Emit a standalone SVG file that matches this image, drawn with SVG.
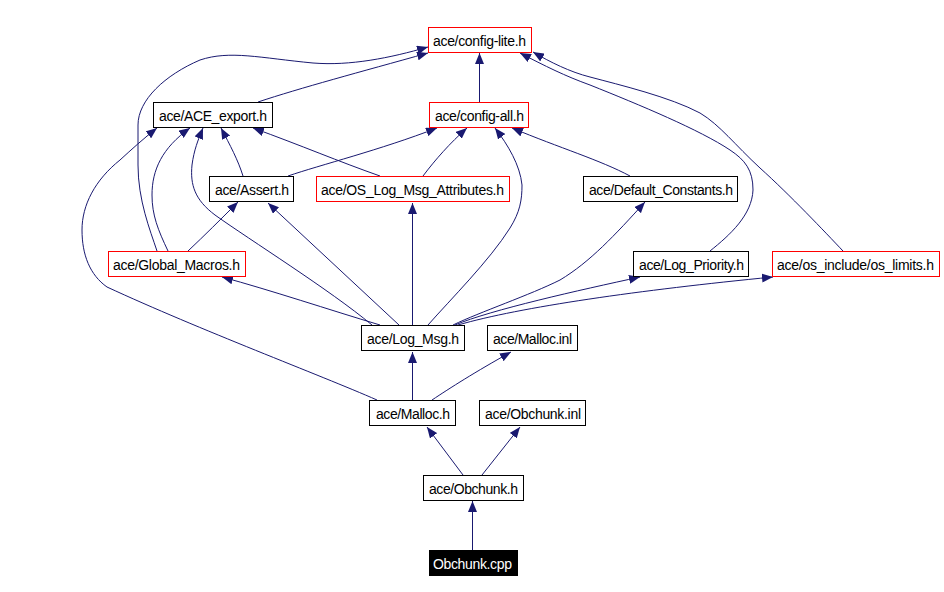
<svg xmlns="http://www.w3.org/2000/svg" width="944" height="592" viewBox="0 0 944 592">
<style>
.n rect{fill:#fff;stroke:#000;stroke-width:1}
.n.r rect{stroke:#f00}
.n text{font-family:"Liberation Sans",Arial,sans-serif;font-size:14px;fill:#000}
.n.b rect{fill:#000;stroke:#000}
.n.b text{fill:#fff}
#edges path{fill:none;stroke:#191970;stroke-width:1;marker-end:url(#arr)}
</style>
<defs>
<marker id="arr" markerWidth="11" markerHeight="9" refX="11" refY="4.5" orient="auto" markerUnits="userSpaceOnUse">
<path d="M0,0 L11,4.5 L0,9 z" fill="#191970"/>
</marker>
</defs>
<rect width="944" height="592" fill="#fff"/>
<g id="edges">
<path d="M472.5,550 L472.5,501"/>
<path d="M463,475 L427,427"/>
<path d="M482,475 L520,427"/>
<path d="M412.5,400 L412.5,352"/>
<path d="M432,400 C450,388 475,372 511,352"/>
<path d="M377,400 C320,375 200,330 107,287 C90,275 82,255 82,230 C82,205 95,180 120,160 C132,149 143,139 157,128"/>
<path d="M412.5,325 L412.5,203"/>
<path d="M399,325 L268,203"/>
<path d="M380,325 C330,310 270,290 222,277"/>
<path d="M372,325 C330,290 250,240 215,215 C195,200 190,185 192,165 C194,150 198,140 203,128"/>
<path d="M428,325 C450,300 490,260 510,228 C520,212 522,200 522,185 C520,165 508,145 495,128"/>
<path d="M453,325 C480,312 530,295 560,280 C590,262 615,235 645,202"/>
<path d="M455,325 C490,310 580,290 640,277"/>
<path d="M458,325 C520,307 640,290 773,277"/>
<path d="M243,176 C238,160 230,145 221,128"/>
<path d="M288,176 C320,165 380,150 437,128"/>
<path d="M380,176 C340,162 300,145 253,128"/>
<path d="M423,176 C435,160 450,143 467,128"/>
<path d="M630,176 C600,160 560,148 512,128"/>
<path d="M188,251 C205,235 220,220 238,202"/>
<path d="M168,251 C158,230 152,215 152,195 C152,170 162,148 190,128"/>
<path d="M157,251 C150,230 138,200 138,165 L138,125 C138,100 165,75 200,60 C230,50 260,58 313,63 C350,66 390,58 428,47"/>
<path d="M258,102 C300,88 360,72 428,53"/>
<path d="M479.5,102 L479.5,53"/>
<path d="M710,251 C730,235 752,215 753,190 C753,170 745,160 730,150 C700,130 640,105 590,85 C565,76 545,66 520,53"/>
<path d="M843,251 C825,232 790,195 760,168 C735,145 720,125 700,113 C670,97 620,85 590,77 C570,72 550,62 533,52"/>
</g>
<g id="config_lite" class="n r"><rect x="428.5" y="27.5" width="103" height="25"/><text x="433" y="46" textLength="93">ace/config-lite.h</text></g>
<g id="ace_export" class="n"><rect x="153.5" y="102.5" width="119" height="25"/><text x="159" y="121" textLength="108">ace/ACE_export.h</text></g>
<g id="config_all" class="n r"><rect x="429.5" y="102.5" width="99" height="25"/><text x="435" y="121" textLength="89">ace/config-all.h</text></g>
<g id="assert" class="n"><rect x="209.5" y="176.5" width="84" height="25"/><text x="215" y="195" textLength="74">ace/Assert.h</text></g>
<g id="os_log_msg_attributes" class="n r"><rect x="316.5" y="176.5" width="193" height="25"/><text x="321" y="195" textLength="183">ace/OS_Log_Msg_Attributes.h</text></g>
<g id="default_constants" class="n"><rect x="583.5" y="176.5" width="154" height="25"/><text x="589" y="195" textLength="144">ace/Default_Constants.h</text></g>
<g id="global_macros" class="n r"><rect x="108.5" y="251.5" width="137" height="25"/><text x="113" y="270" textLength="127">ace/Global_Macros.h</text></g>
<g id="log_priority" class="n"><rect x="633.5" y="251.5" width="115" height="25"/><text x="639" y="270" textLength="105">ace/Log_Priority.h</text></g>
<g id="os_limits" class="n r"><rect x="772.5" y="251.5" width="167" height="25"/><text x="777" y="270" textLength="157">ace/os_include/os_limits.h</text></g>
<g id="log_msg" class="n"><rect x="361.5" y="325.5" width="103" height="25"/><text x="367" y="344" textLength="92">ace/Log_Msg.h</text></g>
<g id="malloc_inl" class="n"><rect x="487.5" y="325.5" width="90" height="25"/><text x="493" y="344" textLength="79">ace/Malloc.inl</text></g>
<g id="malloc_h" class="n"><rect x="369.5" y="400.5" width="86" height="25"/><text x="376" y="419" textLength="74">ace/Malloc.h</text></g>
<g id="obchunk_inl" class="n"><rect x="479.5" y="400.5" width="106" height="25"/><text x="485" y="419" textLength="96">ace/Obchunk.inl</text></g>
<g id="obchunk_h" class="n"><rect x="423.5" y="475.5" width="100" height="25"/><text x="429" y="494" textLength="89">ace/Obchunk.h</text></g>
<g id="obchunk_cpp" class="n b"><rect x="429.5" y="550.5" width="88" height="25"/><text x="433" y="569" textLength="79">Obchunk.cpp</text></g>
</svg>
